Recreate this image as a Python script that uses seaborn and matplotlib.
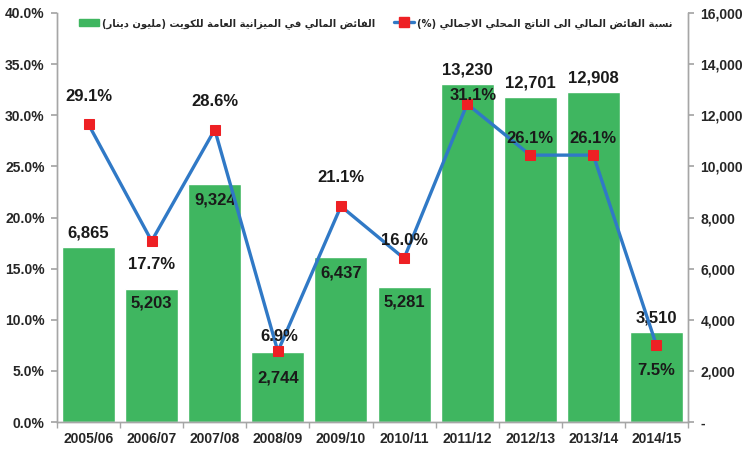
import numpy as np
import pandas as pd
import matplotlib
matplotlib.use("Agg")
import matplotlib.pyplot as plt
from matplotlib.lines import Line2D
from matplotlib.patches import Patch
from matplotlib.ticker import FuncFormatter, FixedLocator
import seaborn as sns

# ---------------- data ----------------
years = ["2005/06", "2006/07", "2007/08", "2008/09", "2009/10",
         "2010/11", "2011/12", "2012/13", "2013/14", "2014/15"]
surplus = [6865, 5203, 9324, 2744, 6437, 5281, 13230, 12701, 12908, 3510]
ratio = [29.1, 17.7, 28.6, 6.9, 21.1, 16.0, 31.1, 26.1, 26.1, 7.5]
bar_name = "الفائض المالي في الميزانية العامة للكويت (مليون دينار)"
line_name = "نسبة الفائض المالي الى الناتج المحلي الاجمالي (%)"

# label offsets (points) - style only
bar_lab_off = [10, -10, -12, -19, -11, -11, 10, 10, 10, 10]
line_lab_off = [(0, 20), (0, -17), (0, 20), (1, 11), (0, 21), (0, 13), (4, 6), (0, 12), (0, 12), (0, -18)]

# ---------------- minimal Arabic shaping ----------------
FORMS = {
    'ا': ('\uFE8D', '\uFE8E', None, None),
    'ب': ('\uFE8F', '\uFE90', '\uFE91', '\uFE92'),
    'ة': ('\uFE93', '\uFE94', None, None),
    'ت': ('\uFE95', '\uFE96', '\uFE97', '\uFE98'),
    'ج': ('\uFE9D', '\uFE9E', '\uFE9F', '\uFEA0'),
    'ح': ('\uFEA1', '\uFEA2', '\uFEA3', '\uFEA4'),
    'د': ('\uFEA9', '\uFEAA', None, None),
    'ر': ('\uFEAD', '\uFEAE', None, None),
    'ز': ('\uFEAF', '\uFEB0', None, None),
    'س': ('\uFEB1', '\uFEB2', '\uFEB3', '\uFEB4'),
    'ض': ('\uFEBD', '\uFEBE', '\uFEBF', '\uFEC0'),
    'ع': ('\uFEC9', '\uFECA', '\uFECB', '\uFECC'),
    'ف': ('\uFED1', '\uFED2', '\uFED3', '\uFED4'),
    'ك': ('\uFED9', '\uFEDA', '\uFEDB', '\uFEDC'),
    'ل': ('\uFEDD', '\uFEDE', '\uFEDF', '\uFEE0'),
    'م': ('\uFEE1', '\uFEE2', '\uFEE3', '\uFEE4'),
    'ن': ('\uFEE5', '\uFEE6', '\uFEE7', '\uFEE8'),
    'ه': ('\uFEE9', '\uFEEA', '\uFEEB', '\uFEEC'),
    'و': ('\uFEED', '\uFEEE', None, None),
    'ى': ('\uFEEF', '\uFEF0', None, None),
    'ي': ('\uFEF1', '\uFEF2', '\uFEF3', '\uFEF4'),
    'ئ': ('\uFE89', '\uFE8A', '\uFE8B', '\uFE8C'),
}


def shape_ar(text):
    chars = list(text)
    n = len(chars)

    def dual(c):
        return c in FORMS and FORMS[c][2] is not None

    out = []
    i = 0
    while i < n:
        c = chars[i]
        if c not in FORMS:
            out.append(c)
            i += 1
            continue
        prev = chars[i - 1] if i > 0 else ''
        jp = dual(prev)
        if c == 'ل' and i + 1 < n and chars[i + 1] == 'ا':
            out.append('\uFEFC' if jp else '\uFEFB')
            i += 2
            continue
        nxt = chars[i + 1] if i + 1 < n else ''
        jn = dual(c) and (nxt in FORMS)
        iso, fin, ini, med = FORMS[c]
        if jp and jn:
            out.append(med)
        elif jp:
            out.append(fin)
        elif jn:
            out.append(ini)
        else:
            out.append(iso)
        i += 1
    s = ''.join(out)[::-1]
    return s.translate(str.maketrans('()', ')('))


# ---------------- style ----------------
sns.set_theme(style="white")
plt.rcParams['font.family'] = ['Liberation Sans', 'DejaVu Sans']
plt.rcParams['font.weight'] = 'bold'

GREEN = "#3fb660"
BLUE = "#3079c6"
RED = "#ee2024"
GREY = "#a6a6a6"

df = pd.DataFrame({"year": years, "surplus": surplus, "ratio": ratio})
df["pos"] = np.arange(len(df))

fig = plt.figure(figsize=(7.47, 4.5), dpi=100)
ax = fig.add_axes([57 / 747, 28 / 450, (688 - 57) / 747, (422 - 13) / 450])

# bars (values on right axis)
sns.barplot(data=df, x="year", y="surplus", order=years, color=GREEN,
            saturation=1, width=0.84, ax=ax, zorder=2)
ax.set_xlabel("")
ax.set_ylabel("")

# line (percent on left axis), twin drawn on top of bars
ax2 = ax.twinx()
sns.lineplot(data=df, x="pos", y="ratio", ax=ax2, color=BLUE, linewidth=2.4,
             marker="s", markersize=7, markerfacecolor=RED, markeredgecolor=RED,
             zorder=5, sort=False)
ax2.set_xlabel("")
ax2.set_ylabel("")

# axis placement: bars' scale on right, percentage on left
ax.yaxis.tick_right()
ax.yaxis.set_label_position("right")
ax2.yaxis.tick_left()
ax2.yaxis.set_label_position("left")

ax.set_ylim(0, 16000)
ax.set_xlim(-0.5, len(years) - 0.5)
ax.set_yticks(np.arange(0, 16001, 2000))
ax.yaxis.set_major_formatter(FuncFormatter(lambda v, p: "-" if v == 0 else f"{v:,.0f}"))
ax2.set_ylim(0, 40)
ax2.set_yticks(np.arange(0, 40.01, 5))
ax2.yaxis.set_major_formatter(FuncFormatter(lambda v, p: f"{v:.1f}%"))
ax2.set_xlim(-0.5, len(years) - 0.5)

# spines / ticks
for a in (ax, ax2):
    a.spines["top"].set_visible(False)
    for s in ("left", "right", "bottom"):
        a.spines[s].set_color(GREY)
        a.spines[s].set_linewidth(1.0)
ax.tick_params(axis="y", which="major", length=4, color=GREY, labelsize=10, pad=5,
               right=True, left=False, labelright=True, labelleft=False)
ax2.tick_params(axis="y", which="major", length=4, color=GREY, labelsize=10, pad=5,
                left=True, right=False, labelleft=True, labelright=False)
ax.tick_params(axis="x", which="major", length=0, labelsize=10, pad=7)
ax.xaxis.set_minor_locator(FixedLocator(np.arange(-0.5, len(years), 1.0)))
ax.tick_params(axis="x", which="minor", length=4, color=GREY, bottom=True)
for lab in ax.get_xticklabels() + ax.get_yticklabels() + ax2.get_yticklabels():
    lab.set_fontweight("bold")

# bar value labels
for i, (v, off) in enumerate(zip(surplus, bar_lab_off)):
    ax.annotate(f"{v:,}", (i, v), xytext=(0, off), textcoords="offset points",
                ha="center", va="center", fontsize=12, fontweight="bold",
                color="#1a1a1a", zorder=6)

# line value labels
for i, (v, off) in enumerate(zip(ratio, line_lab_off)):
    ax2.annotate(f"{v:.1f}%", (i, v), xytext=off, textcoords="offset points",
                 ha="center", va="center", fontsize=12, fontweight="bold",
                 color="#1a1a1a", zorder=7)

# legend
handles = [Patch(facecolor=GREEN, edgecolor=GREEN),
           Line2D([0], [0], color=BLUE, lw=2.4, marker="s", markersize=7,
                  markerfacecolor=RED, markeredgecolor=RED)]
labels = [shape_ar(bar_name), shape_ar(line_name)]
leg = ax2.legend(handles, labels, ncol=2, loc="upper center",
                 bbox_to_anchor=(0.505, 1.01), frameon=False, handlelength=2.0,
                 handletextpad=0.3, columnspacing=1.8,
                 prop={"family": "DejaVu Sans", "weight": "bold", "size": 7.2})

fig.savefig("out.png", dpi=100)
